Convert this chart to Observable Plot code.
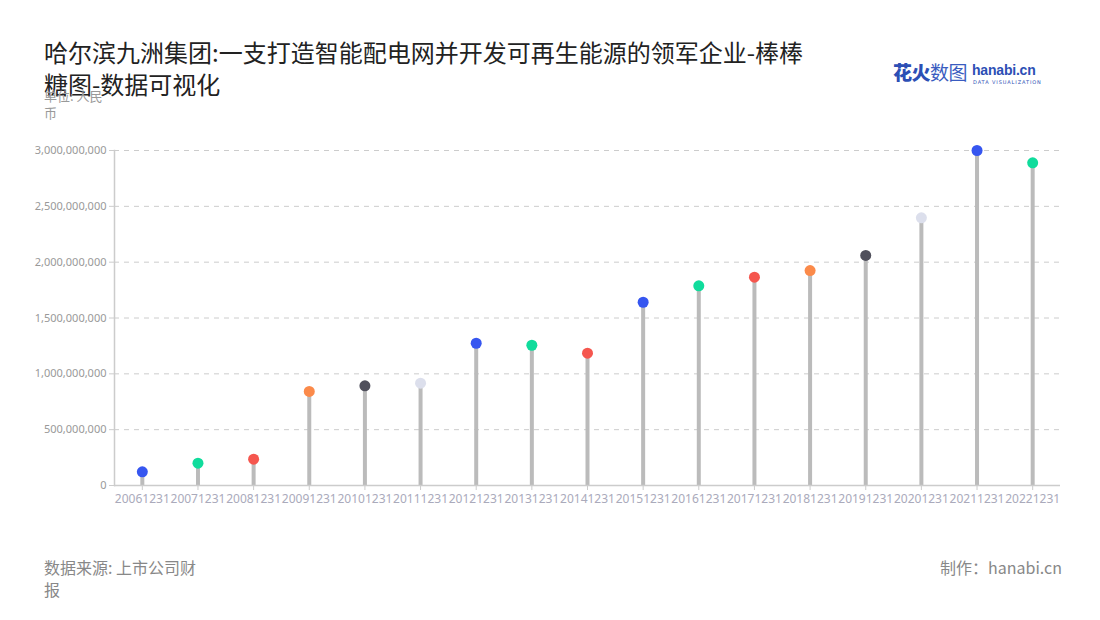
<!DOCTYPE html>
<html>
<head>
<meta charset="utf-8">
<script src="https://cdn.jsdelivr.net/npm/d3@7"></script>
<script src="https://cdn.jsdelivr.net/npm/@observablehq/plot@0.6"></script>
<style>
  html, body { margin: 0; padding: 0; background: #fff; }
  body { width: 1100px; height: 620px; position: relative; overflow: hidden;
         font-family: "Noto Sans CJK SC", "Noto Sans", sans-serif; }
  #title { position: absolute; left: 44px; top: 36px; width: 780px; font-size: 24px;
           line-height: 32px; color: #222; }
  #unit { position: absolute; left: 44px; top: 87px; width: 66px; font-size: 13px;
          line-height: 17px; color: #999; }
  #chart { position: absolute; left: 0; top: 130px; }
  #source { position: absolute; left: 44px; top: 556px; width: 158px; font-size: 16px;
            line-height: 22px; color: #888; }
  #maker { position: absolute; right: 38px; top: 556px; font-size: 16px; line-height: 22px; color: #888; }
  #logo { position: absolute; left: 893px; top: 59px; height: 30px; }
  #logo .cn { position: absolute; left: 0; top: 0; font-size: 19px; font-weight: 900; color: #2c4fb5;
              white-space: nowrap; line-height: 26px; letter-spacing: -0.5px; }
  #logo .cn .thin { font-weight: 400; color: #3a5cc0; }
  #logo .en { position: absolute; left: 79px; top: 3px; font-size: 14px; font-weight: 700; color: #2c4fb5;
              white-space: nowrap; line-height: 16px; font-family: "Liberation Sans", sans-serif; letter-spacing: -0.2px; }
  #logo .sub { position: absolute; left: 80px; top: 20px; font-size: 5px; color: #2c4fb5; white-space: nowrap;
               letter-spacing: 0.9px; font-family: "DejaVu Sans", sans-serif; }
</style>
</head>
<body>
<div id="title">哈尔滨九洲集团:一支打造智能配电网并开发可再生能源的领军企业-棒棒糖图-数据可视化</div>
<div id="unit">单位: 人民币</div>
<div id="logo"><span class="cn">花火<span class="thin">数图</span></span><span class="en">hanabi.cn</span><span class="sub">DATA VISUALIZATION</span></div>
<div id="chart"></div>
<div id="source">数据来源: 上市公司财报</div>
<div id="maker">制作：hanabi.cn</div>
<script>
const categories = ["20061231","20071231","20081231","20091231","20101231","20111231","20121231","20131231","20141231","20151231","20161231","20171231","20181231","20191231","20201231","20211231","20221231"];
const values = [123000000, 200000000, 236000000, 842000000, 893000000, 916000000, 1274000000, 1256000000, 1185000000, 1641000000, 1788000000, 1866000000, 1925000000, 2060000000, 2397000000, 3000000000, 2890000000];
const colorIndex = [0,1,2,3,4,5,0,1,2,0,1,2,3,4,5,0,1];
const palette = ["#3656f0", "#10dc9c", "#f5564e", "#fb8a4a", "#50505c", "#dcdfec"];
const yTicks = [0, 500000000, 1000000000, 1500000000, 2000000000, 2500000000, 3000000000];

const data = categories.map((c, i) => ({ date: c, value: values[i], color: palette[colorIndex[i]] }));

const chart = Plot.plot({
  width: 1100,
  height: 385,
  marginTop: 20,
  marginBottom: 30,
  marginLeft: 114,
  marginRight: 40,
  style: { fontFamily: "'Noto Sans', 'Noto Sans CJK SC', sans-serif", fontSize: "12px", color: "#aaa", background: "#fff" },
  x: { type: "band", domain: categories, padding: 0, round: false, label: null },
  y: { domain: [0, 3000000000], label: null },
  marks: [
    Plot.gridY(yTicks, { stroke: "#ccc", strokeOpacity: 1, strokeDasharray: "5,5" }),
    Plot.ruleX(data, { x: "date", y1: 0, y2: "value", stroke: "#bbb", strokeWidth: 4 }),
    Plot.ruleY([0], { stroke: "#ccc", strokeWidth: 1.5 }),
    Plot.frame({ anchor: "left", stroke: "#ccc", strokeWidth: 1.5 }),
    Plot.axisY(yTicks, { tickFormat: d3.format(","), tickSize: 5, tickPadding: 3, stroke: "#ccc", fill: "#999", fontSize: 11, label: null }),
    Plot.axisX({ tickSize: 5, tickPadding: 4, stroke: "#ccc", fill: "#aab", fontSize: 12, label: null }),
    Plot.dot(data, { x: "date", y: "value", r: 5.5, fill: "color", stroke: null })
  ]
});
document.getElementById("chart").appendChild(chart);
</script>
</body>
</html>
